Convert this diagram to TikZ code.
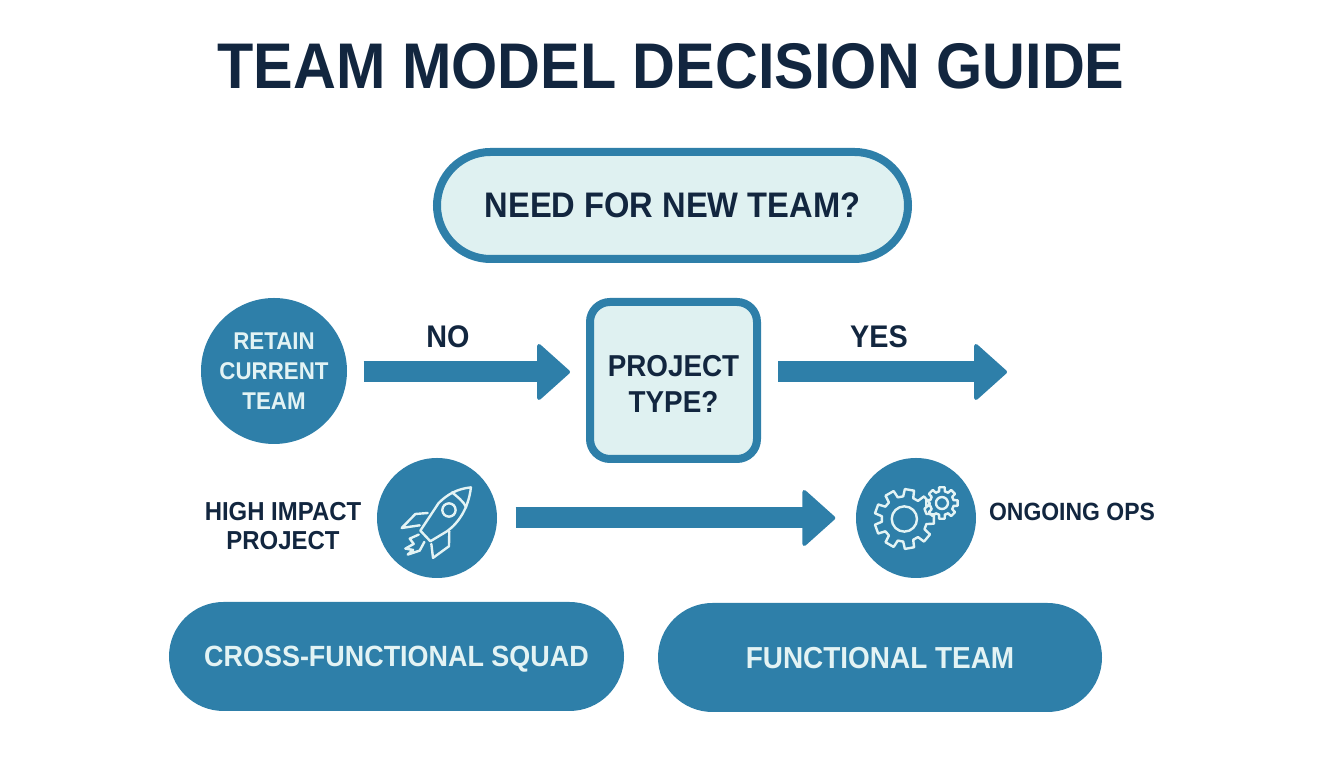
\documentclass[tikz,border=0pt]{standalone}
\usepackage{fontspec}
\setmainfont[FakeStretch=0.92]{Liberation Sans}
\usepackage{xcolor}
\usetikzlibrary{shapes,arrows.meta}
\definecolor{tealblue}{HTML}{2E7FA9}
\definecolor{palefill}{HTML}{DFF1F1}
\definecolor{inktext}{HTML}{12263F}
\definecolor{paletext}{HTML}{E3F3F4}

\begin{document}
\begin{tikzpicture}[
    bubble/.style={circle, fill=tealblue, inner sep=0pt, align=center, text=paletext, font=\fontsize{6.9}{8.6}\selectfont\bfseries},
    pill/.style={rounded rectangle, fill=tealblue, inner sep=0pt, text=paletext, text depth=0pt},
    ask/.style={draw=tealblue, fill=palefill, line width=0.08cm, inner sep=0pt, align=center, text=inktext},
    caption/.style={align=center, text=inktext, font=\fontsize{7.4}{8.2}\selectfont\bfseries},
    arrow/.style={-{Triangle[length=0.34cm, width=0.6cm, round, line width=0.04cm]}, line width=0.21cm, tealblue},
    icon/.style={draw=paletext, line width=0.024cm, line join=round, line cap=round}
]
    \useasboundingbox (0, 0) rectangle (13.44, 7.68);

    % Title
    \node[text=inktext, font=\fontsize{18.36}{20}\selectfont\bfseries] (title) at (6.71, 7.02) {TEAM MODEL DECISION GUIDE};

    % Question boxes
    \node[ask, rounded rectangle, minimum width=4.71cm, minimum height=1.07cm, font=\fontsize{10.1}{12}\selectfont\bfseries] (need) at (6.725, 5.625) {NEED FOR NEW TEAM?};
    \node[ask, rounded corners=0.2cm, minimum width=1.67cm, minimum height=1.57cm, font=\fontsize{8.6}{10.2}\selectfont\bfseries] (ptype) at (6.735, 3.875) {\rule{0pt}{7.9pt}PROJECT\\TYPE?};

    % Circles
    \node[bubble, minimum size=1.46cm] (retain) at (2.74, 3.97) {RETAIN\\CURRENT\\TEAM};
    \node[bubble, minimum size=1.2cm] (rocket) at (4.37, 2.5) {};
    \node[bubble, minimum size=1.2cm] (gears) at (9.16, 2.5) {};

    % Side labels
    \node[caption, font=\fontsize{8.9}{10}\selectfont\bfseries] (no) at (4.48, 4.31) {NO};
    \node[caption, font=\fontsize{8.9}{10}\selectfont\bfseries] (yes) at (8.79, 4.31) {YES};
    \node[caption] (high) at (2.83, 2.42) {HIGH IMPACT\\PROJECT};
    \node[caption, font=\fontsize{7.1}{8.2}\selectfont\bfseries] (ongoing) at (10.72, 2.56) {ONGOING OPS};

    % Result pills
    \node[pill, minimum width=4.55cm, minimum height=1.09cm, font=\fontsize{8.33}{10}\selectfont\bfseries] (squad) at (3.965, 1.115) {CROSS-FUNCTIONAL SQUAD};
    \node[pill, minimum width=4.44cm, minimum height=1.09cm, font=\fontsize{8.64}{10}\selectfont\bfseries] (functional) at (8.8, 1.105) {FUNCTIONAL TEAM};

    % Arrows
    \coordinate (yesend) at (10.07, 3.96);
    \draw[arrow, shorten <=0.16cm, shorten >=0.16cm] ([yshift=-0.01cm]retain.east) -- ([yshift=-0.01cm]retain.east -| ptype.west);
    \draw[arrow, shorten <=0.17cm] (ptype.east |- yesend) -- (yesend);
    \draw[arrow, shorten <=0.18cm, shorten >=0.2cm] (rocket.east) -- (gears.west);

    % Rocket icon
    \begin{scope}[shift={(rocket.center)}, x=0.00333cm, y=-0.00333cm]
        \draw[icon] (102,-92) .. controls (60,-88) and (30,-70) .. (5,-45) -- (-50,38) -- (-20,70) -- (30,40) .. controls (65,15) and (95,-30) .. (102,-92) -- cycle;
        \draw[icon] (45,-77) .. controls (60,-65) and (80,-50) .. (88,-32);
        \draw[icon] (36,-24) circle (20);
        \draw[icon] (-28,-15) -- (-65,-12) -- (-106,30) -- (-52,22);
        \draw[icon] (37,40) -- (36,85) -- (-12,120) -- (-17,78);
        \draw[icon] (-55,50) -- (-82,62) -- (-70,78) -- (-95,92) -- (-72,96) -- (-88,110) -- (-52,98) -- (-38,72);
    \end{scope}

    % Gear icon
    \begin{scope}[shift={(gears.center)}, x=0.00333cm, y=-0.00333cm]
        \draw[icon] (-35,3) ++(-13:68) foreach \a in {0,40,...,320} { -- ([shift={(-35,3)}]\a-9:90) -- ([shift={(-35,3)}]\a+9:90) -- ([shift={(-35,3)}]\a+13:68) -- ([shift={(-35,3)}]\a+27:68)} -- cycle;
        \draw[icon] (-35,3) circle (38);
        \draw[icon] (78,-45) ++(-14:36) foreach \a in {0,45,...,315} { -- ([shift={(78,-45)}]\a-10:48) -- ([shift={(78,-45)}]\a+10:48) -- ([shift={(78,-45)}]\a+14:36) -- ([shift={(78,-45)}]\a+31:36)} -- cycle;
        \draw[icon] (78,-45) circle (18);
    \end{scope}
\end{tikzpicture}
\end{document}
